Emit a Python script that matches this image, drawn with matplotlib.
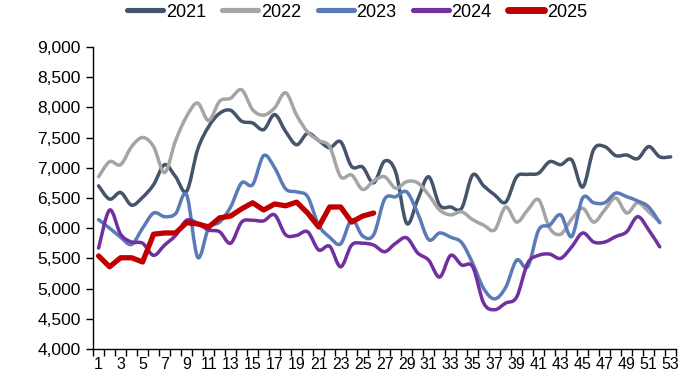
import numpy as np
import matplotlib
matplotlib.use("Agg")
import matplotlib.pyplot as plt
import matplotlib.ticker as mtick
from matplotlib.path import Path
from matplotlib.patches import PathPatch
from matplotlib.lines import Line2D

plt.rcParams['font.family'] = ['Liberation Sans', 'DejaVu Sans']

# weekly values (week 1..53)
s2021 = [6700, 6480, 6590, 6380, 6510, 6720, 7050, 6850, 6610, 7300,
         7680, 7900, 7950, 7770, 7740, 7630, 7880, 7600, 7380, 7570,
         7450, 7330, 7430, 7020, 7010, 6750, 7110, 6930, 6080, 6470,
         6850, 6380, 6350, 6330, 6880, 6700, 6550, 6430, 6850, 6890,
         6910, 7100, 7050, 7130, 6680, 7300, 7350, 7200, 7210, 7150,
         7350, 7180, 7180]
s2022 = [6850, 7100, 7050, 7350, 7500, 7350, 6920, 7450, 7850, 8070,
         7780, 8100, 8150, 8290, 7960, 7870, 7990, 8240, 7870, 7590,
         7450, 7350, 6850, 6880, 6640, 6780, 6850, 6660, 6770, 6750,
         6550, 6300, 6220, 6270, 6140, 6050, 5970, 6350, 6100, 6300,
         6470, 6000, 5900, 6150, 6330, 6100, 6300, 6500, 6250, 6420,
         6270, 6100]
s2023 = [6140, 6000, 5850, 5730, 6000, 6250, 6190, 6240, 6550, 5520,
         6000, 6100, 6350, 6750, 6720, 7200, 7000, 6650, 6600, 6520,
         6050, 5850, 5740, 6140, 5870, 5890, 6480, 6520, 6600, 6250,
         5810, 5920, 5850, 5760, 5420, 5000, 4830, 5020, 5470, 5360,
         5970, 6050, 6220, 5860, 6500, 6420, 6420, 6580, 6520, 6450,
         6350, 6090]
s2024 = [5670, 6300, 5900, 5770, 5750, 5550, 5720, 5880, 6130, 6080,
         5970, 5940, 5750, 6100, 6130, 6120, 6220, 5890, 5880, 5940,
         5640, 5700, 5360, 5720, 5750, 5720, 5610, 5750, 5840, 5590,
         5470, 5190, 5550, 5390, 5360, 4760, 4650, 4760, 4860, 5420,
         5550, 5570, 5500, 5690, 5920, 5770, 5770, 5860, 5940, 6190,
         5970, 5690]
s2025 = [5540, 5360, 5510, 5510, 5440, 5900, 5920, 5920, 6090, 6070,
         6020, 6170, 6200, 6320, 6420, 6300, 6400, 6370, 6430, 6250,
         6020, 6350, 6350, 6100, 6200, 6250]

years = ['2021', '2022', '2023', '2024', '2025']
colors = ['#44546A', '#A5A5A5', '#5B7BB8', '#7030A0', '#C00000']
series = [s2021, s2022, s2023, s2024, s2025]
smooth = [True, True, True, True, False]
widths = [2.5, 2.5, 2.5, 2.5, 3.8]


def smooth_path(y):
    # Excel-like smoothed line: cubic bezier through every point
    x = np.arange(1, len(y) + 1, dtype=float)
    y = np.asarray(y, dtype=float)
    pts = np.column_stack([x, y])
    verts = [pts[0]]
    codes = [Path.MOVETO]
    n = len(pts)
    for i in range(n - 1):
        p0 = pts[i - 1] if i > 0 else pts[i]
        p1 = pts[i]
        p2 = pts[i + 1]
        p3 = pts[i + 2] if i + 2 < n else pts[i + 1]
        c1 = p1 + (p2 - p0) / 6.0
        c2 = p2 - (p3 - p1) / 6.0
        verts += [c1, c2, p2]
        codes += [Path.CURVE4] * 3
    return Path(verts, codes)


fig = plt.figure(figsize=(7, 3.81), dpi=100)
ax = fig.add_axes([0.133, 0.084, 0.833, 0.793])

handles = []
for yr, c, s, sm, lw in zip(years, colors, series, smooth, widths):
    if sm:
        ax.add_patch(PathPatch(smooth_path(s), fill=False, edgecolor=c,
                               linewidth=lw, capstyle='round', joinstyle='round'))
    else:
        ax.plot(np.arange(1, len(s) + 1), s, color=c, linewidth=lw,
                solid_joinstyle='round', solid_capstyle='round')
    handles.append(Line2D([0], [0], color=c, linewidth=lw + 1.2, solid_capstyle='round'))

ax.set_xlim(0.5, 53.5)
ax.set_ylim(4000, 9000)

# x axis: tick marks between categories, labels on odd weeks
ax.set_xticks(np.arange(0.5, 54, 1.0))
ax.set_xticklabels([])
ax.set_xticks(np.arange(1, 54, 2), minor=True)
ax.set_xticklabels([str(i) for i in range(1, 54, 2)], minor=True)
ax.tick_params(axis='x', which='major', length=5, width=1, direction='out', color='black')
ax.tick_params(axis='x', which='minor', length=0, labelsize=11.5, pad=6)

ax.set_yticks(np.arange(4000, 9001, 500))
ax.yaxis.set_major_formatter(mtick.StrMethodFormatter('{x:,.0f}'))
ax.tick_params(axis='y', length=5, width=1, direction='out', labelsize=12.5, pad=4)

for sp in ['top', 'right']:
    ax.spines[sp].set_visible(False)
for sp in ['left', 'bottom']:
    ax.spines[sp].set_color('black')
    ax.spines[sp].set_linewidth(1)

fig.legend(handles, years, loc='center', bbox_to_anchor=(0.51, 0.968), ncol=5,
           frameon=False, fontsize=13, handlelength=2.0, handletextpad=0.15,
           columnspacing=0.9)

fig.savefig('out.png', dpi=100, facecolor='white')
